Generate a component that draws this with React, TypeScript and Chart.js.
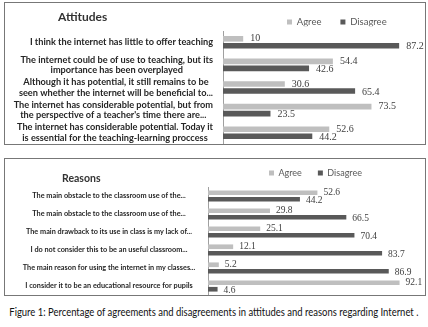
import React, { useEffect, useRef } from "react";
import { Chart, registerables } from "chart.js";

Chart.register(...registerables);

// ---------- data ----------
const attitudeLabels: string[][] = [
  ["I think the internet has little to offer teaching"],
  ["The internet could be of use to teaching, but its", "importance has been overplayed"],
  ["Although it has potential, it still remains to be", "seen whether the internet will be beneficial to..."],
  ["The internet has considerable potential, but from", "the perspective of a teacher's time there are..."],
  ["The internet has considerable potential. Today it", "is essential for the teaching-learning proccess"],
];
const attitudeAgree = [10, 54.4, 30.6, 73.5, 52.6];
const attitudeDisagree = [87.2, 42.6, 65.4, 23.5, 44.2];

const reasonLabels: string[] = [
  "The main obstacle to the classroom use of the...",
  "The main obstacle to the classroom use of the...",
  "The main drawback to its use in class is my lack of...",
  "I do not consider this to be an useful classroom...",
  "The main reason for using the internet in my classes...",
  "I consider it to be an educational resource for pupils",
];
const reasonAgree = [52.6, 29.8, 25.1, 12.1, 5.2, 92.1];
const reasonDisagree = [44.2, 66.5, 70.4, 83.7, 86.9, 4.6];

const seriesNames = ["Agree", "Disagree"];
const AGREE = "#bfbfbf";
const DISAGREE = "#595959";

// ---------- plugins ----------
const blockLabels = {
  id: "blockLabels",
  afterDraw(chart: any, _a: any, opts: any) {
    const ctx = chart.ctx;
    const y = chart.scales.y;
    ctx.save();
    ctx.font = opts.font;
    ctx.fillStyle = opts.color;
    ctx.textAlign = "center";
    ctx.textBaseline = "middle";
    (chart.data.labels as any[]).forEach((lab, i) => {
      const lines: string[] = Array.isArray(lab) ? lab : [lab];
      const widest = Math.max(...lines.map((l) => ctx.measureText(l).width));
      const cx = opts.mode === "right" ? y.right - opts.gap - widest / 2 : y.right - opts.gap;
      const cy = y.getPixelForTick(i);
      lines.forEach((l, k) => {
        ctx.fillText(l, cx, cy + (k - (lines.length - 1) / 2) * opts.lineHeight);
      });
    });
    ctx.restore();
  },
};

const valueLabels = {
  id: "valueLabels",
  afterDatasetsDraw(chart: any, _a: any, opts: any) {
    const ctx = chart.ctx;
    ctx.save();
    ctx.font = opts.font;
    ctx.fillStyle = opts.color;
    ctx.textAlign = "left";
    ctx.textBaseline = "middle";
    chart.data.datasets.forEach((ds: any, di: number) => {
      const meta = chart.getDatasetMeta(di);
      meta.data.forEach((bar: any, i: number) => {
        ctx.fillText(String(ds.data[i]), bar.x + opts.offset, bar.y + (opts.dy ? opts.dy[di] : 0));
      });
    });
    ctx.restore();
  },
};

const legendPlace = {
  id: "legendPlace",
  afterLayout(chart: any, _a: any, opts: any) {
    const lg = chart.legend;
    if (!lg) return;
    const lo = lg.options.labels;
    const pad = lo.padding;
    const size = lo.font.size;
    const itemH = Math.max(lo.boxHeight, size);
    const w = lg.right - lg.left;
    const h = lg.bottom - lg.top;
    lg.left = opts.x - pad;
    lg.right = lg.left + w;
    lg.top = opts.y - itemH / 2 - pad;
    lg.bottom = lg.top + h;
  },
};

function buildChart(
  canvas: HTMLCanvasElement,
  labels: any[],
  agree: number[],
  disagree: number[],
  s: any
) {
  return new Chart(canvas, {
    type: "bar",
    data: {
      labels,
      datasets: [
        {
          label: seriesNames[0],
          data: agree,
          backgroundColor: AGREE,
          categoryPercentage: s.cat,
          barPercentage: s.bar,
        },
        {
          label: seriesNames[1],
          data: disagree,
          backgroundColor: DISAGREE,
          categoryPercentage: s.cat,
          barPercentage: s.bar,
        },
      ],
    },
    options: {
      indexAxis: "y",
      animation: false,
      responsive: false,
      maintainAspectRatio: false,
      events: [],
      layout: { padding: { top: 0, left: 0, right: s.padRight, bottom: 0 } },
      scales: {
        x: { display: false, min: 0, max: 100 },
        y: {
          grid: { display: false },
          border: { display: true, color: "#a0a0a0", width: 1 },
          ticks: { display: false },
          afterFit: (scale: any) => {
            scale.width = s.axisWidth;
          },
        },
      },
      plugins: {
        tooltip: { enabled: false },
        title: { display: false },
        legend: {
          display: true,
          position: "top",
          align: "start",
          maxHeight: s.legendHeight,
          labels: {
            boxWidth: 5,
            boxHeight: 5,
            padding: s.legendGap,
            color: "#595959",
            font: { family: "Lato", size: s.legendFont },
          },
        },
        legendPlace: { x: s.legendX, y: s.legendY },
        blockLabels: { font: s.labelFont, color: "#262626", lineHeight: s.lineHeight, mode: s.mode, gap: s.labelGap },
        valueLabels: { font: s.valueFont, color: "#404040", offset: s.valueOffset, dy: [0, 1] },
      } as any,
    },
    plugins: [legendPlace, blockLabels, valueLabels],
  } as any);
}

export default function App() {
  const topRef = useRef<HTMLCanvasElement>(null);
  const botRef = useRef<HTMLCanvasElement>(null);

  useEffect(() => {
    const c1 = buildChart(topRef.current!, attitudeLabels, attitudeAgree, attitudeDisagree, {
      cat: 0.62,
      bar: 0.8,
      padRight: 0,
      axisWidth: 218,
      legendHeight: 28,
      legendGap: 19,
      legendFont: 9.5,
      legendX: 282,
      legendY: 19,
      labelFont: "bold 9.2px Lato",
      lineHeight: 10.5,
      mode: "right",
      labelGap: 10,
      valueFont: "10px 'Liberation Serif'",
      valueOffset: 7,
    });
    const c2 = buildChart(botRef.current!, reasonLabels, reasonAgree, reasonDisagree, {
      cat: 0.72,
      bar: 0.72,
      padRight: 9,
      axisWidth: 203,
      legendHeight: 28,
      legendGap: 16,
      legendFont: 9,
      legendX: 264,
      legendY: 14,
      labelFont: "bold 7.3px Lato",
      lineHeight: 10,
      mode: "center",
      labelGap: 99,
      valueFont: "9.5px 'Liberation Serif'",
      valueOffset: 6,
    });
    return () => {
      c1.destroy();
      c2.destroy();
    };
  }, []);

  const box: React.CSSProperties = {
    position: "absolute",
    left: 4,
    width: 420,
    border: "1px solid #777",
    background: "#fff",
  };

  return (
    <div style={{ position: "absolute", left: 0, top: 0, width: 428, height: 327, background: "#fff" }}>
      <div style={{ ...box, top: 2, height: 141 }}>
        <canvas ref={topRef} width={420} height={141} style={{ display: "block" }} />
      </div>
      <div
        style={{
          position: "absolute",
          left: 58,
          top: 11,
          font: "bold 12px Lato",
          lineHeight: "12px",
          color: "#333",
          whiteSpace: "nowrap",
        }}
      >
        Attitudes
      </div>
      <div style={{ ...box, top: 158, height: 136 }}>
        <canvas ref={botRef} width={420} height={136} style={{ display: "block" }} />
      </div>
      <div
        style={{
          position: "absolute",
          left: 62,
          top: 173,
          font: "bold 10.5px Lato",
          lineHeight: "10px",
          color: "#333",
          whiteSpace: "nowrap",
        }}
      >
        Reasons
      </div>
      <div
        style={{
          position: "absolute",
          left: 0,
          top: 305,
          width: 428,
          display: "flex",
          justifyContent: "center",
        }}
      >
        <span
          style={{
            display: "inline-block",
            flex: "none",
            font: "11px Lato",
            lineHeight: "14px",
            color: "#111",
            whiteSpace: "nowrap",
            transform: "scaleX(0.86)",
            transformOrigin: "center",
          }}
        >
          Figure 1: Percentage of agreements and disagreements in attitudes and reasons regarding Internet .
        </span>
      </div>
    </div>
  );
}
